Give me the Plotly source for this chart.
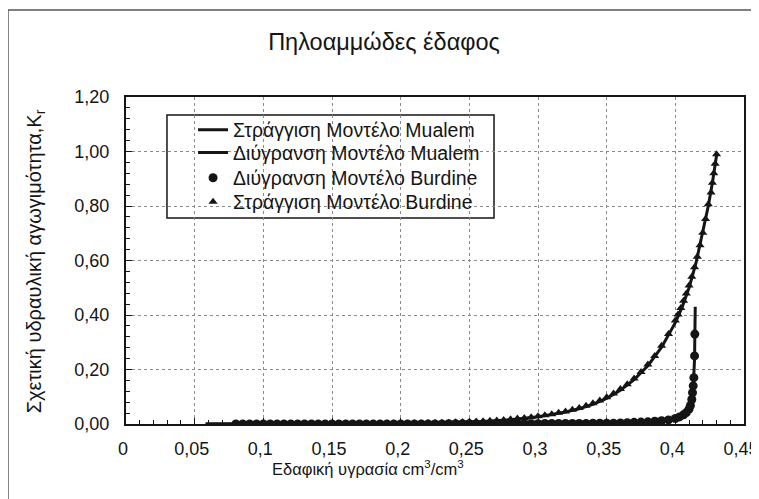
import plotly.graph_objects as go

# ---- data ----
title_text = "Πηλοαμμώδες έδαφος"
x_title = "Εδαφική υγρασία cm<sup>3</sup>/cm<sup>3</sup>"
y_title = "Σχετική υδραυλική αγωγιμότητα,K<sub>r</sub>"
names = ["Στράγγιση Μοντέλο Mualem", "Διύγρανση Μοντέλο Mualem",
         "Διύγρανση Μοντέλο Burdine", "Στράγγιση Μοντέλο Burdine"]

# Drainage (Στράγγιση) - Mualem line
drain_line_x = [0.058, 0.08, 0.10, 0.12, 0.14, 0.16, 0.18, 0.20, 0.22, 0.24, 0.26, 0.28,
                0.29, 0.30, 0.31, 0.32, 0.33, 0.34, 0.35, 0.36, 0.37, 0.38, 0.39, 0.40,
                0.405, 0.41, 0.415, 0.42, 0.424, 0.427, 0.429, 0.430]
drain_line_y = [0.000, 0.000, 0.000, 0.000, 0.000, 0.001, 0.001, 0.002, 0.003, 0.005, 0.009, 0.016,
                0.021, 0.027, 0.035, 0.044, 0.056, 0.072, 0.094, 0.124, 0.163, 0.214, 0.282, 0.372,
                0.430, 0.500, 0.590, 0.700, 0.800, 0.885, 0.950, 0.985]

# Wetting (Διύγρανση) - Mualem line
wet_line_x = [0.058, 0.08, 0.10, 0.15, 0.20, 0.25, 0.30, 0.33, 0.35, 0.37, 0.38, 0.39,
              0.40, 0.405, 0.408, 0.410, 0.411, 0.412, 0.413, 0.4135, 0.414, 0.4142, 0.4145]
wet_line_y = [0.000, 0.000, 0.000, 0.000, 0.000, 0.001, 0.001, 0.002, 0.003, 0.005, 0.007, 0.010,
              0.018, 0.028, 0.040, 0.055, 0.070, 0.092, 0.130, 0.170, 0.240, 0.320, 0.430]

# Drainage - Burdine markers
drain_pts_x = [0.080, 0.085, 0.090, 0.095, 0.100, 0.105, 0.110, 0.115, 0.120, 0.125,
               0.130, 0.135, 0.140, 0.145, 0.150, 0.155, 0.160, 0.165, 0.170, 0.175,
               0.180, 0.185, 0.190, 0.195, 0.200, 0.205, 0.210, 0.215, 0.220, 0.225,
               0.230, 0.235, 0.240, 0.245, 0.250, 0.255, 0.260, 0.265, 0.270, 0.275,
               0.280, 0.285, 0.290, 0.295, 0.300, 0.305, 0.310, 0.315, 0.320, 0.325,
               0.330, 0.335, 0.340, 0.345, 0.350, 0.355, 0.360, 0.365, 0.370, 0.375,
               0.380, 0.385, 0.390, 0.395, 0.400, 0.402, 0.404, 0.406, 0.408, 0.410,
               0.412, 0.414, 0.416, 0.418, 0.420, 0.422, 0.424, 0.426, 0.427, 0.428,
               0.429, 0.430]
drain_pts_y = [0.000, 0.000, 0.000, 0.000, 0.000, 0.000, 0.000, 0.000, 0.000, 0.000,
               0.000, 0.000, 0.000, 0.000, 0.000, 0.001, 0.001, 0.001, 0.001, 0.001,
               0.001, 0.001, 0.002, 0.002, 0.002, 0.002, 0.003, 0.003, 0.004, 0.004,
               0.005, 0.005, 0.006, 0.007, 0.008, 0.009, 0.010, 0.012, 0.013, 0.015,
               0.017, 0.020, 0.022, 0.025, 0.028, 0.032, 0.036, 0.041, 0.046, 0.052,
               0.059, 0.067, 0.076, 0.086, 0.098, 0.112, 0.128, 0.146, 0.167, 0.191,
               0.218, 0.250, 0.287, 0.330, 0.380, 0.402, 0.426, 0.452, 0.479, 0.508,
               0.540, 0.575, 0.614, 0.656, 0.702, 0.752, 0.806, 0.850, 0.885, 0.920,
               0.955, 0.990]

# Wetting - Burdine markers
wet_pts_x = [0.080, 0.085, 0.090, 0.095, 0.100, 0.105, 0.110, 0.115, 0.120, 0.125,
             0.130, 0.135, 0.140, 0.145, 0.150, 0.155, 0.160, 0.165, 0.170, 0.175,
             0.180, 0.185, 0.190, 0.195, 0.200, 0.205, 0.210, 0.215, 0.220, 0.225,
             0.230, 0.235, 0.240, 0.245, 0.250, 0.255, 0.260, 0.265, 0.270, 0.275,
             0.280, 0.285, 0.290, 0.295, 0.300, 0.305, 0.310, 0.315, 0.320, 0.325,
             0.330, 0.335, 0.340, 0.345, 0.350, 0.355, 0.360, 0.365, 0.370, 0.375,
             0.380, 0.385, 0.390, 0.395, 0.400, 0.403, 0.406, 0.408, 0.410, 0.411,
             0.412, 0.4125, 0.413, 0.4135, 0.414, 0.4142]
wet_pts_y = [0.000, 0.000, 0.000, 0.000, 0.000, 0.000, 0.000, 0.000, 0.000, 0.000,
             0.000, 0.000, 0.000, 0.000, 0.000, 0.000, 0.000, 0.000, 0.000, 0.000,
             0.000, 0.000, 0.000, 0.000, 0.000, 0.000, 0.000, 0.000, 0.000, 0.000,
             0.000, 0.001, 0.001, 0.001, 0.001, 0.001, 0.001, 0.001, 0.001, 0.001,
             0.001, 0.001, 0.001, 0.001, 0.001, 0.002, 0.002, 0.002, 0.002, 0.002,
             0.002, 0.002, 0.003, 0.003, 0.003, 0.003, 0.004, 0.005, 0.006, 0.007,
             0.008, 0.010, 0.012, 0.015, 0.020, 0.026, 0.034, 0.042, 0.055, 0.068,
             0.090, 0.115, 0.140, 0.170, 0.250, 0.330]

x_tick_vals = [0, 0.05, 0.1, 0.15, 0.2, 0.25, 0.3, 0.35, 0.4, 0.45]
y_tick_vals = [0, 0.2, 0.4, 0.6, 0.8, 1.0, 1.2]

FONT = "Liberation Sans, Arial, sans-serif"
INK = "#151515"
# page is rendered with the browser's default 8px body margin
OFF = 8
W, H = 759 - OFF, 499 - OFF

fig = go.Figure()
fig.add_trace(go.Scatter(x=drain_line_x, y=drain_line_y, mode="lines", name=names[0],
                         line=dict(color=INK, width=3), legend="legend"))
fig.add_trace(go.Scatter(x=wet_line_x, y=wet_line_y, mode="lines", name=names[1],
                         line=dict(color=INK, width=3), legend="legend2"))
fig.add_trace(go.Scatter(x=wet_pts_x, y=wet_pts_y, mode="markers", name=names[2],
                         marker=dict(symbol="circle", size=9, color=INK), legend="legend3"))
fig.add_trace(go.Scatter(x=drain_pts_x, y=drain_pts_y, mode="markers", name=names[3],
                         marker=dict(symbol="triangle-up", size=8, color=INK), legend="legend4"))

axis_common = dict(showline=True, linecolor=INK, linewidth=2, mirror=True,
                   gridcolor="#8a8a8a", griddash="dot", gridwidth=1,
                   ticks="inside", ticklen=6, tickcolor=INK, zeroline=False,
                   automargin=False, ticklabeloverflow="allow",
                   tickfont=dict(family=FONT, size=18, color=INK))

fig.update_xaxes(range=[0, 0.45], tickvals=x_tick_vals, ticklabelstandoff=7, ticklabelshift=-3,
                 minor=dict(dtick=0.01, ticks="inside", ticklen=4, tickcolor=INK, showgrid=False),
                 **axis_common)
fig.update_yaxes(range=[0, 1.2], tickvals=y_tick_vals, tickformat=".2f", ticklabelstandoff=11,
                 minor=dict(dtick=0.04, ticks="inside", ticklen=4, tickcolor=INK, showgrid=False),
                 **axis_common)

# outer chart frame (only its left and top edges fall inside the picture)
fig.add_shape(type="rect", xref="paper", yref="paper",
              x0=-0.191, y0=-1.0, x1=2.0, y1=1.266,
              line=dict(color="#555555", width=1.5), layer="below")
# legend frame
fig.add_shape(type="rect", xref="paper", yref="paper",
              x0=0.0663, y0=0.630, x1=0.5955, y1=0.945,
              line=dict(color=INK, width=1.5), fillcolor="white", layer="below")

fig.add_annotation(text=x_title, xref="paper", yref="paper", x=0.392, y=-0.136,
                   showarrow=False, xanchor="center", yanchor="middle",
                   font=dict(family=FONT, size=16.5, color=INK))
fig.add_annotation(text=y_title, xref="paper", yref="paper", x=-0.147, y=0.498,
                   showarrow=False, xanchor="center", yanchor="middle", textangle=-90,
                   font=dict(family=FONT, size=20, color=INK))

leg_x = 0.1085
leg_common = dict(x=leg_x, xanchor="left", yanchor="middle",
                  bgcolor="rgba(0,0,0,0)", borderwidth=0,
                  font=dict(family=FONT, size=19.5, color=INK), itemwidth=30)
row_y = [0.899, 0.829, 0.752, 0.679]

fig.update_layout(
    width=W, height=H,
    margin=dict(l=126 - OFF, r=15, t=97 - OFF, b=75),
    paper_bgcolor="white", plot_bgcolor="white",
    separators=",.",
    font=dict(family=FONT, color=INK),
    title=dict(text=title_text, x=(384 - OFF) / W, xanchor="center",
               y=1 - (42 - OFF) / H, yanchor="middle",
               yref="container", font=dict(family=FONT, size=23.5, color=INK)),
    showlegend=True,
    legend=dict(y=row_y[0], **leg_common),
    legend2=dict(y=row_y[1], **leg_common),
    legend3=dict(y=row_y[2], **leg_common),
    legend4=dict(y=row_y[3], **leg_common),
)

fig.write_html("out.html")
